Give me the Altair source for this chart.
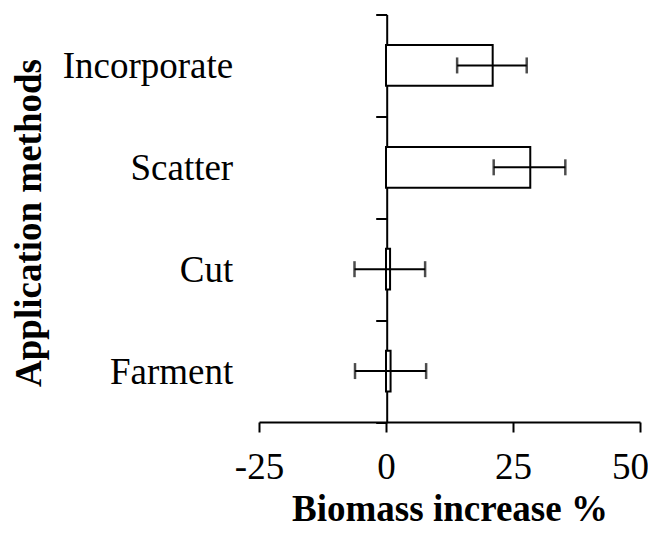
import altair as alt
import pandas as pd

methods = ["Incorporate", "Scatter", "Cut", "Farment"]
increase = [21.0, 28.4, 0.8, 0.9]
err_low = [14.0, 21.2, -6.2, -6.1]
err_high = [27.7, 35.3, 7.7, 7.9]
x_ticks = [-25, 0, 25, 50]

df = pd.DataFrame({"method": methods, "increase": increase,
                   "low": err_low, "high": err_high})

font = "Liberation Serif"
FS = 37

y_scale = alt.Scale(paddingInner=0, paddingOuter=0)
y_axis = alt.Axis(
    title="Application methods", offset=-127.7, tickBand="extent",
    tickSize=11, tickWidth=2, tickColor="black",
    domainWidth=2, domainColor="black", grid=False,
    labelFont=font, labelFontSize=FS, labelColor="black",
    labelPadding=143, labelBaseline="alphabetic", labelOffset=12.5, labelLimit=400,
    titleFont=font, titleFontSize=FS, titleFontWeight="bold", titleColor="black",
    titleX=-346.4, titleY=208, titleBaseline="alphabetic", titleAngle=270,
    titleAlign="center",
)
x_scale = alt.Scale(domain=[-25, 50], nice=False, zero=False)
x_axis = alt.Axis(
    values=x_ticks, title="Biomass increase %",
    tickSize=10, tickWidth=2, tickColor="black",
    domainWidth=2, domainColor="black", grid=False,
    labelFont=font, labelFontSize=FS, labelColor="black", labelFlush=False,
    labelBaseline="alphabetic", labelPadding=46, labelExpr="'' + datum.value",
    labelOffset={"condition": {"test": "datum.value == 50", "value": -10}, "value": 0},
    titleFont=font, titleFontSize=FS, titleFontWeight="bold", titleColor="black",
    titleBaseline="alphabetic", titleY=98,
)

y_enc = alt.Y("method:N", sort=methods, scale=y_scale, axis=y_axis)

bars = alt.Chart(df).mark_bar(
    fill="white", stroke="black", strokeWidth=2, height={"band": 0.4}
).encode(
    y=y_enc,
    x=alt.X("increase:Q", scale=x_scale, axis=x_axis),
)

err = alt.Chart(df).mark_rule(color="black", strokeWidth=2).encode(
    y=y_enc,
    x=alt.X("low:Q", scale=x_scale, axis=x_axis),
    x2="high:Q",
)

cap_lo = alt.Chart(df).mark_tick(orient="vertical", size=16, thickness=2.5, color="black").encode(
    y=y_enc,
    x=alt.X("low:Q", scale=x_scale, axis=x_axis),
)
cap_hi = alt.Chart(df).mark_tick(orient="vertical", size=16, thickness=2.5, color="black").encode(
    y=y_enc,
    x=alt.X("high:Q", scale=x_scale, axis=x_axis),
)

chart = alt.layer(bars, err, cap_lo, cap_hi).properties(
    width=381, height=407.5,
    autosize=alt.AutoSizeParams(type="none"),
    padding={"left": 251, "top": 6.5, "right": 8, "bottom": 106},
    background="white",
).configure_view(strokeWidth=0)

chart.save("out.html", embed_options={"renderer": "svg", "actions": False})
